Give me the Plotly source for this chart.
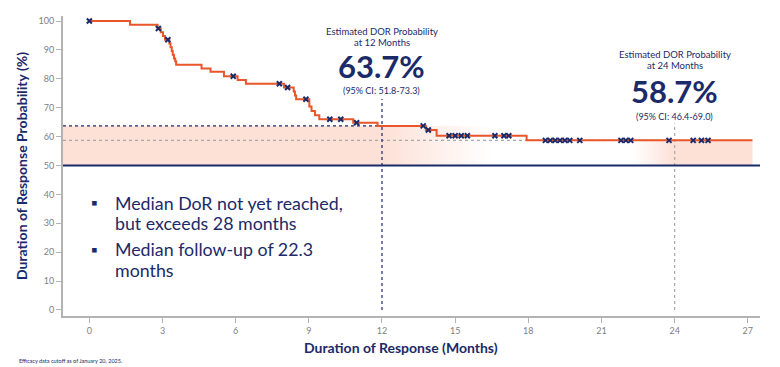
import plotly.graph_objects as go

# ---------------- data ----------------
km_months = [0, 1.67, 2.80, 2.93, 3.02, 3.10, 3.28, 3.33, 3.38, 3.42, 3.47, 3.52, 3.56,
             4.60, 4.97, 5.52, 6.08, 6.42, 7.98, 8.38, 8.43, 8.48, 9.02, 9.11, 9.25, 9.43,
             10.82, 11.82, 13.80, 14.24, 17.93, 27.19]
km_prob = [100, 98.7, 97.4, 96.1, 94.8, 93.5, 92.2, 90.9, 89.6, 88.3, 87.0, 86.1, 84.9,
           83.6, 82.4, 80.9, 79.6, 78.3, 77.0, 75.6, 74.2, 72.9, 70.4, 68.9, 67.4, 66.0,
           64.8, 63.7, 62.3, 60.3, 58.7, 58.7]

censor_months = [0, 2.83, 3.22, 5.90, 7.79, 8.13, 8.88, 9.86, 10.31, 10.96, 13.69, 13.90,
                 14.75, 15.0, 15.25, 15.5, 16.63, 17.0, 17.2, 18.7, 18.9, 19.1, 19.3, 19.5,
                 19.7, 20.11, 21.8, 22.0, 22.2, 23.77, 24.76, 25.1, 25.37]
censor_prob = [100, 97.4, 93.5, 80.9, 78.3, 77.0, 72.9, 66.0, 66.0, 64.8, 63.7, 62.3,
               60.3, 60.3, 60.3, 60.3, 60.3, 60.3, 60.3, 58.7, 58.7, 58.7, 58.7, 58.7,
               58.7, 58.7, 58.7, 58.7, 58.7, 58.7, 58.7, 58.7, 58.7]

landmark_months = [12, 24]
landmark_prob = [63.7, 58.7]
landmark_ci = ["51.8-73.3", "46.4-69.0"]
median_line = 50

x_ticks = [0, 3, 6, 9, 12, 15, 18, 21, 24, 27]
y_ticks = [0, 10, 20, 30, 40, 50, 60, 70, 80, 90, 100]
x_range = [-1.08, 27.5]
y_range = [-2.08, 101.73]

NAVY = "#1b2a68"
ORANGE = "#e8562a"
PINK = "rgba(253,224,214,1)"
PINK0 = "rgba(253,224,214,0)"
GREY_DOT = "#a9a9a9"
FONT = "Lato"

fig = go.Figure()

# shaded bands (gradient)
fig.add_trace(go.Scatter(
    x=[x_range[0], 16.5, 16.5, x_range[0]],
    y=[median_line, median_line, landmark_prob[0], landmark_prob[0]],
    fill="toself", mode="lines", line=dict(width=0), hoverinfo="skip", showlegend=False,
    fillgradient=dict(type="horizontal",
                      colorscale=[[0, PINK], [0.74, PINK], [1, PINK0]])))
fig.add_trace(go.Scatter(
    x=[22.3, 27.19, 27.19, 22.3],
    y=[median_line, median_line, landmark_prob[1], landmark_prob[1]],
    fill="toself", mode="lines", line=dict(width=0), hoverinfo="skip", showlegend=False,
    fillgradient=dict(type="horizontal",
                      colorscale=[[0, PINK0], [0.35, PINK], [1, PINK]])))

# reference lines
fig.add_trace(go.Scatter(x=[x_range[0], landmark_months[0]], y=[landmark_prob[0]] * 2,
                         mode="lines", line=dict(color=NAVY, width=1.2, dash="dot"),
                         hoverinfo="skip", showlegend=False))
fig.add_trace(go.Scatter(x=[x_range[0], landmark_months[1]], y=[landmark_prob[1]] * 2,
                         mode="lines", line=dict(color=GREY_DOT, width=1.2, dash="dot"),
                         hoverinfo="skip", showlegend=False))
fig.add_trace(go.Scatter(x=[landmark_months[0]] * 2, y=[0, 73],
                         mode="lines", line=dict(color=NAVY, width=1.2, dash="dot"),
                         hoverinfo="skip", showlegend=False))
fig.add_trace(go.Scatter(x=[landmark_months[1]] * 2, y=[0, 64.5],
                         mode="lines", line=dict(color=GREY_DOT, width=1.2, dash="dot"),
                         hoverinfo="skip", showlegend=False))
fig.add_trace(go.Scatter(x=x_range, y=[median_line] * 2,
                         mode="lines", line=dict(color=NAVY, width=2),
                         hoverinfo="skip", showlegend=False))

# KM curve
fig.add_trace(go.Scatter(x=km_months, y=km_prob, mode="lines", line_shape="hv",
                         line=dict(color=ORANGE, width=2), showlegend=False))
# censor marks
fig.add_trace(go.Scatter(x=censor_months, y=censor_prob, mode="markers",
                         marker=dict(symbol="x-thin", size=5, color=NAVY,
                                     line=dict(width=2, color=NAVY)), showlegend=False))

ann = []
# landmark annotations
groups = [
    (landmark_months[0], [96.5, 92.6, 84.4, 75.9]),
    (landmark_months[1], [88.4, 84.6, 75.9, 67.1]),
]
for i, (xm, ys) in enumerate(groups):
    ann.append(dict(x=xm, y=ys[0], text="Estimated DOR Probability", showarrow=False,
                    font=dict(family=FONT, size=9.5, color=NAVY)))
    ann.append(dict(x=xm, y=ys[1], text=f"at {xm} Months", showarrow=False,
                    font=dict(family=FONT, size=9.5, color=NAVY)))
    ann.append(dict(x=xm, y=ys[2], text=f"<b>{landmark_prob[i]}%</b>", showarrow=False,
                    font=dict(family=FONT, size=31, color=NAVY)))
    ann.append(dict(x=xm, y=ys[3], text=f"(95% CI: {landmark_ci[i]})", showarrow=False,
                    font=dict(family=FONT, size=9, color=NAVY)))

# bullets
bullet_lines = [
    (37.1, "Median DoR not yet reached,", True),
    (30.0, "but exceeds 28 months", False),
    (21.0, "Median follow-up of 22.3", True),
    (13.8, "months", False),
]
for yv, txt, has_bullet in bullet_lines:
    ann.append(dict(x=0.98, y=yv, text=txt, showarrow=False, xanchor="left",
                    font=dict(family=FONT, size=17.8, color=NAVY)))
    if has_bullet:
        ann.append(dict(x=0.23, y=yv, text="▪", showarrow=False, xanchor="center",
                        font=dict(family=FONT, size=17, color=NAVY)))

# axis titles and footnote
ann.append(dict(xref="paper", yref="paper", x=0.485, y=0, yshift=-31.7, yanchor="middle",
                xanchor="center",
                text="<b>Duration of Response (Months)</b>", showarrow=False,
                font=dict(family=FONT, size=14, color=NAVY)))
ann.append(dict(xref="paper", yref="paper", x=0, xshift=-42, y=0.5, textangle=-90,
                xanchor="center", yanchor="middle",
                text="<b>Duration of Response Probability (%)</b>", showarrow=False,
                font=dict(family=FONT, size=14, color=NAVY)))
ann.append(dict(xref="paper", yref="paper", x=0, xshift=-46, xanchor="left", y=0,
                yshift=-44.7, yanchor="middle",
                text="Efficacy data cutoff as of January 20, 2025.", showarrow=False,
                font=dict(family=FONT, size=5.5, color=NAVY)))

# page body has an 8px margin: offset plot margins to land at the reference pixels
fig.update_layout(
    width=780, height=367, autosize=False,
    margin=dict(l=55, r=28, t=8, b=59),
    paper_bgcolor="white", plot_bgcolor="white",
    annotations=ann, showlegend=False,
    xaxis=dict(range=x_range, tickvals=x_ticks, showgrid=False, zeroline=False,
               showline=True, linecolor="#b3b3b3", linewidth=2, ticks="outside",
               ticklen=5, tickcolor="#b3b3b3", tickwidth=1,
               tickfont=dict(family=FONT, size=9, color="#808080")),
    yaxis=dict(range=y_range, tickvals=y_ticks, showgrid=False, zeroline=False,
               showline=True, linecolor="#b3b3b3", linewidth=2, ticks="outside",
               ticklen=5, tickcolor="#b3b3b3", tickwidth=1,
               tickfont=dict(family=FONT, size=9, color="#808080")),
)

fig.write_html("out.html")
